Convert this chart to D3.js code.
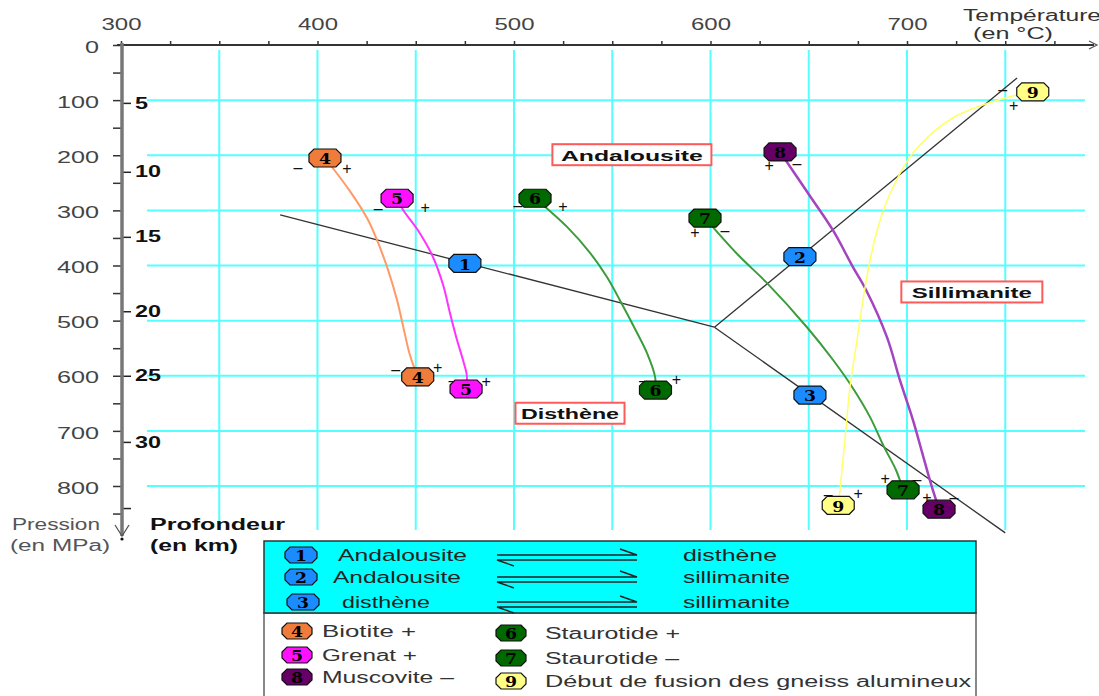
<!DOCTYPE html>
<html lang="fr">
<head>
<meta charset="UTF-8">
<title>Domaines de stabilité des silicates d'alumine</title>
<script src="https://d3js.org/d3.v7.min.js"></script>
<style>
  body { margin: 0; background: #fff; }
  svg { display: block; font-family: "Liberation Sans", Arial, sans-serif; }
</style>
</head>
<body>
<script>
var w = 1099;
var h = 696;

// axes
var tempTicks = d3.range(300, 776, 25);
var tempLabels = [300, 400, 500, 600, 700];
var tempGrid = d3.range(350, 751, 50);
var pressTicks = d3.range(0, 851, 50);
var pressLabels = [0, 100, 200, 300, 400, 500, 600, 700, 800];
var pressGrid = [100, 200, 300, 400, 500, 600, 700, 800];
var depthKm = [5, 10, 15, 20, 25, 30, 35];
var depthPress = [105, 230, 348, 483, 600, 720, 840];

// reaction lines (T in °C, P in MPa)
var triplePoint = [602, 512];
var lineAndDis = [[381, 308], triplePoint];
var lineAndSil = [triplePoint, [756, 60]];
var lineDisSil = [triplePoint, [750, 885]];
var reactionMarks = [[1, 475, 396], [2, 645.5, 384], [3, 650.6, 635]];

// mineral curves, first and last point = markers
var curveBiotite = [[403.8, 205], [416.5, 265], [425.2, 314], [430.3, 354], [435.9, 408], [440.5, 463], [444, 517], [447, 562], [451, 602]];
var curveGrenat = [[440.5, 278], [443.5, 299], [451.1, 336], [458.3, 381], [463.9, 435], [467.4, 486], [471, 535], [474, 571], [476, 600], [475.6, 624]];
var curveStauroPlus = [[510.7, 278], [527, 330], [538.7, 377], [547.3, 421], [553.9, 463], [562.6, 522], [567.7, 559], [571.8, 602], [572, 626]];
var curveStauroMinus = [[597.2, 314], [614.1, 381], [628.8, 432], [649.1, 512], [662.3, 571], [672, 620], [681.2, 675], [688.3, 729], [694.4, 771], [698, 807]];
var curveMuscovite = [[635.4, 194], [650.6, 274], [662.3, 336], [672.5, 403], [679.1, 444], [689.8, 530], [696.4, 608], [703, 680], [707.6, 738], [712.2, 796], [716.3, 842]];
var curveFusion = [[764, 85], [755, 91], [723.4, 132], [703, 196], [692.9, 258], [686.3, 318], [681.2, 390], [677.6, 463], [674.6, 535], [671, 620], [668.4, 717], [665.9, 807], [665, 835]];

var curves = [
    {id: 4, pts: curveBiotite},
    {id: 5, pts: curveGrenat},
    {id: 6, pts: curveStauroPlus},
    {id: 7, pts: curveStauroMinus},
    {id: 8, pts: curveMuscovite},
    {id: 9, pts: curveFusion}
];

// region names (T, P)
var regions = [["Andalousite", 560, 199], ["Sillimanite", 733, 448], ["Disthène", 528.5, 668]];

// legend texts
var legendReactions = [[1, "Andalousite", "disthène"], [2, "Andalousite", "sillimanite"], [3, "disthène", "sillimanite"]];
var legendMinerals = [[4, "Biotite +"], [5, "Grenat +"], [8, "Muscovite –"], [6, "Staurotide +"], [7, "Staurotide –"], [9, "Début de fusion des gneiss alumineux"]];

// styles
var markFill = {1: "#1a8cff", 2: "#1a8cff", 3: "#1a8cff", 4: "#f07c3c", 5: "#ff10ff", 6: "#006a00", 7: "#006a00", 8: "#660066", 9: "#ffff88"};
var curveColor = {4: "#ff9a66", 5: "#ff33ff", 6: "#3c9c3c", 7: "#3c9c3c", 8: "#a444c0", 9: "#ffff66"};
var curveWidth = {4: 2, 5: 2, 6: 2, 7: 2, 8: 2.5, 9: 1.5};

// + / - signs around each marker, pixel offsets
var signsTop = {
    4: [["–", -27, 9], ["+", 22, 10]],
    5: [["–", -19, 10], ["+", 28, 9]],
    6: [["–", -17, 7], ["+", 28, 8]],
    7: [["+", -10, 14], ["–", 20, 12]],
    8: [["+", -11, 13], ["–", 17, 11]],
    9: [["–", -30, -2], ["+", -19, 14]]
};
var signsBottom = {
    4: [["–", -22, -7], ["+", 20, -9]],
    5: [["–", -13, -9], ["+", 20, -8]],
    6: [["–", -12, -10], ["+", 21, -11]],
    7: [["+", -18, -11], ["–", 14, -10]],
    8: [["+", -12, -12], ["–", 15, -12]],
    9: [["–", -10, -11], ["+", 20, -12]]
};

var svg = d3.select("body")
    .append("svg")
    .attr("width", w)
    .attr("height", h);

// Scales
var x = d3.scaleLinear().domain([300, 700]).range([121, 907]);
var y = d3.scaleLinear().domain([0, 800]).range([45, 486]);
var yDepth = d3.scaleLinear().domain(depthKm).range(depthPress.map(function(p) { return y(p); }));

function txt(sel, px, py, s, o) {
    var t = sel.append("text")
        .attr("x", px)
        .attr("y", py)
        .attr("dy", "0.35em")
        .attr("font-size", o.size || 16)
        .attr("font-weight", o.bold ? "bold" : null)
        .attr("fill", o.color || "#222")
        .attr("text-anchor", o.anchor || "start")
        .text(s);
    if (o.len) t.attr("textLength", o.len).attr("lengthAdjust", "spacingAndGlyphs");
    return t;
}

function octagon(mw, mh) {
    var a = mw / 2, b = mh / 2, c = 5;
    return "M" + (-a + c) + "," + (-b) + "L" + (a - c) + "," + (-b) + "L" + a + "," + (-b + c) +
        "L" + a + "," + (b - c) + "L" + (a - c) + "," + b + "L" + (-a + c) + "," + b +
        "L" + (-a) + "," + (b - c) + "L" + (-a) + "," + (-b + c) + "Z";
}

function marker(sel, px, py, id, mw, mh) {
    var g = sel.append("g").attr("transform", "translate(" + px + "," + py + ")");
    g.append("path")
        .attr("d", octagon(mw || 32, mh || 18))
        .attr("fill", markFill[id])
        .attr("stroke", "#111")
        .attr("stroke-width", 1.2);
    g.append("text")
        .attr("y", 1)
        .attr("dy", "0.35em")
        .attr("text-anchor", "middle")
        .attr("font-family", "'DejaVu Serif', 'Liberation Serif', serif")
        .attr("font-weight", "bold")
        .attr("font-size", 15)
        .attr("fill", "#000")
        .attr("textLength", 12)
        .attr("lengthAdjust", "spacingAndGlyphs")
        .text(id);
}

// Grid
var grid = svg.append("g").attr("stroke", "#55ffff").attr("stroke-width", 2);
grid.selectAll(".gv")
    .data(tempGrid)
    .enter()
    .append("line")
    .attr("x1", function(d) { return x(d); })
    .attr("x2", function(d) { return x(d); })
    .attr("y1", 50)
    .attr("y2", 530);
grid.selectAll(".gh")
    .data(pressGrid)
    .enter()
    .append("line")
    .attr("x1", 147)
    .attr("x2", 1085)
    .attr("y1", function(d) { return y(d); })
    .attr("y2", function(d) { return y(d); });

// Reaction lines
var line = d3.line()
    .x(function(d) { return x(d[0]); })
    .y(function(d) { return y(d[1]); });

svg.selectAll(".reaction")
    .data([lineAndDis, lineAndSil, lineDisSil])
    .enter()
    .append("path")
    .attr("d", line)
    .attr("fill", "none")
    .attr("stroke", "#333")
    .attr("stroke-width", 1.3);

// Mineral curves
var curveLine = d3.line()
    .x(function(d) { return x(d[0]); })
    .y(function(d) { return y(d[1]); })
    .curve(d3.curveCatmullRom.alpha(0.5));

svg.selectAll(".mineral")
    .data(curves)
    .enter()
    .append("path")
    .attr("d", function(d) { return curveLine(d.pts); })
    .attr("fill", "none")
    .attr("stroke", function(d) { return curveColor[d.id]; })
    .attr("stroke-width", function(d) { return curveWidth[d.id]; });

// Markers on the reaction lines
reactionMarks.forEach(function(m) {
    marker(svg, x(m[1]), y(m[2]), m[0]);
});

// Markers at each end of the curves, with signs
var signs = svg.append("g");
curves.forEach(function(c) {
    var top = c.pts[0], bot = c.pts[c.pts.length - 1];
    var tx = x(top[0]), ty = y(top[1]), bx = x(bot[0]), by = y(bot[1]);
    marker(svg, tx, ty, c.id);
    marker(svg, bx, by, c.id);
    signsTop[c.id].forEach(function(s) {
        txt(signs, tx + s[1], ty + s[2], s[0], {size: 16, anchor: "middle", color: "#111"});
    });
    signsBottom[c.id].forEach(function(s) {
        txt(signs, bx + s[1], by + s[2], s[0], {size: 16, anchor: "middle", color: "#111"});
    });
});

// Region labels
var regionW = {"Andalousite": [159, 142], "Sillimanite": [141, 120], "Disthène": [109, 98]};
regions.forEach(function(r) {
    var cx = x(r[1]), cy = y(r[2]);
    svg.append("rect")
        .attr("x", cx - regionW[r[0]][0] / 2)
        .attr("y", cy - 10.5)
        .attr("width", regionW[r[0]][0])
        .attr("height", 21)
        .attr("fill", "#fff")
        .attr("stroke", "#ff5a5a")
        .attr("stroke-width", 2);
    txt(svg, cx, cy + 1, r[0], {size: 15, bold: true, anchor: "middle", color: "#111", len: regionW[r[0]][1]});
});

// Temperature axis (top)
var xAxis = d3.axisTop(x)
    .tickValues(tempTicks)
    .tickSize(4)
    .tickPadding(11)
    .tickFormat(function(d) { return tempLabels.indexOf(d) >= 0 ? d : ""; });

var gx = svg.append("g")
    .attr("transform", "translate(0,45)")
    .call(xAxis);
gx.select(".domain").remove();
gx.selectAll("line").attr("stroke", "#333").attr("stroke-width", 1.5);
gx.selectAll("text")
    .attr("font-size", 16)
    .attr("font-family", "'Liberation Sans', Arial, sans-serif")
    .attr("fill", "#444")
    .filter(function(d) { return tempLabels.indexOf(d) >= 0; })
    .attr("textLength", 40)
    .attr("lengthAdjust", "spacingAndGlyphs");

svg.append("line")
    .attr("x1", 117).attr("x2", 1094)
    .attr("y1", 45).attr("y2", 45)
    .attr("stroke", "#333").attr("stroke-width", 2);
svg.append("path")
    .attr("d", "M1089,41L1097,45L1089,49")
    .attr("fill", "none").attr("stroke", "#555").attr("stroke-width", 1.2);

txt(svg, 963, 15, "Température", {size: 16, color: "#333", len: 138});
txt(svg, 973, 33, "(en °C)", {size: 16, color: "#333", len: 80});

// Pressure axis (left)
var yAxis = d3.axisLeft(y)
    .tickValues(pressTicks)
    .tickSize(8)
    .tickPadding(14)
    .tickFormat(function(d) { return pressLabels.indexOf(d) >= 0 ? d : ""; });

var gy = svg.append("g")
    .attr("transform", "translate(121,0)")
    .call(yAxis);
gy.select(".domain").remove();
gy.selectAll("line").attr("stroke", "#333").attr("stroke-width", 1.5);
gy.selectAll("text")
    .attr("font-size", 16)
    .attr("font-family", "'Liberation Sans', Arial, sans-serif")
    .attr("fill", "#444")
    .attr("y", 2)
    .filter(function(d) { return pressLabels.indexOf(d) >= 0; })
    .attr("textLength", function(d) { return String(d).length * 14; })
    .attr("lengthAdjust", "spacingAndGlyphs");

// Depth axis (right side of the same line)
var dAxis = d3.axisRight(yDepth)
    .tickValues(depthKm)
    .tickSize(10)
    .tickPadding(4)
    .tickFormat(function(d) { return d < 35 ? d : ""; });

var gd = svg.append("g")
    .attr("transform", "translate(121,0)")
    .call(dAxis);
gd.select(".domain").remove();
gd.selectAll("line").attr("stroke", "#222").attr("stroke-width", 1.5);
gd.selectAll("text")
    .attr("font-size", 16)
    .attr("font-weight", "bold")
    .attr("font-family", "'Liberation Sans', Arial, sans-serif")
    .attr("fill", "#111")
    .filter(function(d) { return d < 35; })
    .attr("textLength", function(d) { return String(d).length * 13; })
    .attr("lengthAdjust", "spacingAndGlyphs");

svg.append("line")
    .attr("x1", 122).attr("x2", 122)
    .attr("y1", 43).attr("y2", 536)
    .attr("stroke", "#777").attr("stroke-width", 3.5);
svg.append("path")
    .attr("d", "M115,525L122,536L129,525")
    .attr("fill", "none").attr("stroke", "#555").attr("stroke-width", 1.3);
svg.append("circle").attr("cx", 122).attr("cy", 539).attr("r", 1.6).attr("fill", "#111");

txt(svg, 12, 524, "Pression", {size: 16, color: "#555", len: 88});
txt(svg, 10, 545, "(en MPa)", {size: 16, color: "#555", len: 100});
txt(svg, 150, 524, "Profondeur", {size: 16, bold: true, color: "#111", len: 135});
txt(svg, 150, 545, "(en km)", {size: 16, bold: true, color: "#111", len: 88});

// Legend
var lg = svg.append("g");
lg.append("rect")
    .attr("x", 264).attr("y", 613).attr("width", 712).attr("height", 95)
    .attr("fill", "#fff").attr("stroke", "#888").attr("stroke-width", 2);
lg.append("rect")
    .attr("x", 264).attr("y", 541).attr("width", 712).attr("height", 72)
    .attr("fill", "#00ffff").attr("stroke", "#333").attr("stroke-width", 1.5);

var reactRowY = [555, 577, 602];
var reactLeftX = [338, 333, 342];
var reactLeftW = [129, 128, 88];
var reactRightW = {"disthène": 94, "sillimanite": 107};
legendReactions.forEach(function(r, i) {
    var cy = reactRowY[i];
    marker(lg, 301 + (i === 2 ? 2 : 0), cy, r[0], 32, 16);
    txt(lg, reactLeftX[i], cy, r[1], {size: 16, color: "#222", len: reactLeftW[i]});
    txt(lg, 683, cy, r[2], {size: 16, color: "#222", len: reactRightW[r[2]]});
    // equilibrium harpoons
    lg.append("path")
        .attr("d", "M497," + (cy) + "L637," + (cy) + "L620," + (cy - 6))
        .attr("fill", "none").attr("stroke", "#222").attr("stroke-width", 1.4);
    lg.append("path")
        .attr("d", "M637," + (cy + 5) + "L497," + (cy + 5) + "L514," + (cy + 11))
        .attr("fill", "none").attr("stroke", "#222").attr("stroke-width", 1.4);
});

var minRowX = [[297, 322], [297, 322], [297, 322], [511, 545], [511, 545], [511, 545]];
var minRowY = [631, 655, 677, 633, 658, 681];
var minW = [94, 95, 132, 135, 134, 426];
legendMinerals.forEach(function(m, i) {
    marker(lg, minRowX[i][0], minRowY[i], m[0], 30, 16);
    txt(lg, minRowX[i][1], minRowY[i], m[1], {size: 16, color: "#333", len: minW[i]});
});
</script>
</body>
</html>
